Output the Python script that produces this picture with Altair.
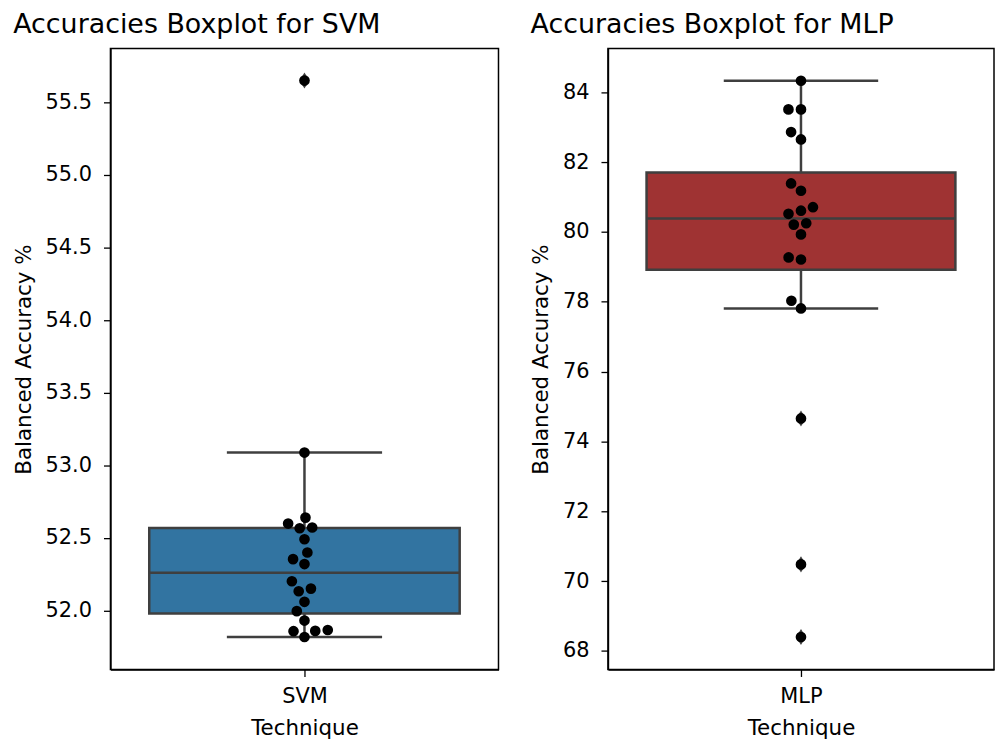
import altair as alt
import numpy as np
import pandas as pd

# ---------------- data ----------------
techniques = ["SVM", "MLP"]
titles = ["Accuracies Boxplot for SVM", "Accuracies Boxplot for MLP"]

svm_acc = [53.088, 52.640, 52.599, 52.567, 52.572, 52.491, 52.400, 52.354,
           52.320, 52.202, 52.133, 52.151, 52.060, 51.996, 51.931, 51.866,
           51.860, 51.858, 51.818, 55.650]
mlp_acc = [84.33, 83.51, 83.51, 82.86, 82.65, 81.39, 81.18, 80.71, 80.61,
           80.52, 80.21, 80.25, 79.93, 79.27, 79.21, 78.03, 77.81, 74.66,
           70.48, 68.40]

svm_ticks = [52.0, 52.5, 53.0, 53.5, 54.0, 54.5, 55.0, 55.5]
mlp_ticks = [68, 70, 72, 74, 76, 78, 80, 82, 84]

# ---------------- style ----------------
FONT = "DejaVu Sans"
EDGE = "#3f3f3f"
COLORS = ["#3274a1", "#9f3333"]
Y_DOMAINS = [[51.594, 55.87], [67.47, 85.25]]
WIDTHS = [390, 388]
HEIGHT = 624
BOX_HALF = 0.4
CAP_HALF = 0.2
DOT_D = 12.0  # swarm spacing in px


def beeswarm(ys, d):
    """seaborn-style swarm: ys sorted ascending (px); returns x offsets (px)."""
    placed = [(0.0, ys[0])]
    for y in ys[1:]:
        neighbors = [(xj, yj) for (xj, yj) in reversed(placed) if abs(y - yj) < d]
        cands = [(0.0, y)]
        left_first = True
        for xj, yj in neighbors:
            dy = y - yj
            dx = np.sqrt(max(d * d - dy * dy, 0.0)) * 1.05
            cl, cr = (xj - dx, y), (xj + dx, y)
            cands.extend([cl, cr] if left_first else [cr, cl])
            left_first = not left_first
        cands.sort(key=lambda c: abs(c[0]))
        chosen = cands[0]
        for c in cands:
            if all((c[0] - xj) ** 2 + (c[1] - yj) ** 2 >= d * d - 1e-9
                   for xj, yj in neighbors):
                chosen = c
                break
        placed.append(chosen)
    return [p[0] for p in placed]


def panel(i, values, ticks, fmt):
    name = techniques[i]
    width = WIDTHS[i]
    dom = Y_DOMAINS[i]
    vals = np.sort(np.array(values, dtype=float))
    q1, med, q3 = np.percentile(vals, [25, 50, 75])
    iqr = q3 - q1
    lo = vals[vals >= q1 - 1.5 * iqr].min()
    hi = vals[vals <= q3 + 1.5 * iqr].max()
    fliers = vals[(vals < lo) | (vals > hi)]

    px_per_unit = HEIGHT / (dom[1] - dom[0])
    offs = beeswarm(list(vals * px_per_unit), DOT_D)
    swarm = pd.DataFrame({"acc": vals, "xpos": np.array(offs) / width})

    stats = pd.DataFrame({"q1": [q1], "q3": [q3], "med": [med], "lo": [lo], "hi": [hi]})
    whisk = pd.DataFrame({"a": [q1, q3], "b": [lo, hi]})
    caps = pd.DataFrame({"y": [lo, hi]})
    fl = pd.DataFrame({"acc": fliers, "xpos": np.zeros(len(fliers))})

    xscale = alt.Scale(domain=[-0.5, 0.5], nice=False, zero=False)
    yscale = alt.Scale(domain=dom, nice=False, zero=False)
    xaxis = alt.Axis(values=[0], labelExpr=f"'{name}'", title="Technique",
                     grid=False, tickSize=7, labelPadding=9, titlePadding=11)
    yaxis = alt.Axis(values=ticks, format=fmt, title="Balanced Accuracy %",
                     grid=False, tickSize=7, labelPadding=12, titlePadding=10)

    box = alt.Chart(stats).mark_rect(
        fill=COLORS[i], stroke=EDGE, strokeWidth=2.5
    ).encode(
        x=alt.X(datum=-BOX_HALF, type="quantitative", scale=xscale, axis=xaxis),
        x2=alt.X2(datum=BOX_HALF),
        y=alt.Y("q1:Q", scale=yscale, axis=yaxis),
        y2="q3:Q",
    )
    wh = alt.Chart(whisk).mark_rule(color=EDGE, strokeWidth=2.5).encode(
        x=alt.X(datum=0, type="quantitative"),
        y="a:Q", y2="b:Q",
    )
    cp = alt.Chart(caps).mark_rule(color=EDGE, strokeWidth=2.5).encode(
        x=alt.X(datum=-CAP_HALF, type="quantitative"),
        x2=alt.X2(datum=CAP_HALF),
        y="y:Q",
    )
    md = alt.Chart(stats).mark_rule(color=EDGE, strokeWidth=2.5).encode(
        x=alt.X(datum=-BOX_HALF, type="quantitative"),
        x2=alt.X2(datum=BOX_HALF),
        y="med:Q",
    )
    flier = alt.Chart(fl).mark_point(
        shape="M0,-1L0.62,0L0,1L-0.62,0Z", filled=True, color=EDGE,
        size=260, opacity=1
    ).encode(x="xpos:Q", y="acc:Q")
    pts = alt.Chart(swarm).mark_circle(color="black", size=115, opacity=1).encode(
        x="xpos:Q", y="acc:Q"
    )
    return alt.layer(box, wh, cp, md, flier, pts).properties(
        width=width, height=HEIGHT,
        title=alt.TitleParams(titles[i], anchor="start", fontSize=27,
                              fontWeight="normal", font=FONT, color="black",
                              baseline="bottom", offset=-17),
    )


left = panel(0, svm_acc, svm_ticks, ".1f")
right = panel(1, mlp_acc, mlp_ticks, "d")

chart = alt.hconcat(left, right, spacing=30).configure(
    padding={"left": 12, "top": 8, "right": 0, "bottom": 0},
    font=FONT,
).configure_view(
    stroke="black", strokeWidth=1.5
).configure_axis(
    labelFont=FONT, titleFont=FONT, labelFontSize=21, titleFontSize=21.5,
    titleFontWeight="normal", labelColor="black", titleColor="black",
    tickColor="black", domainColor="black", domainWidth=1.5, tickWidth=1.3,
)

chart.save("out.html", embed_options={"renderer": "svg", "actions": False})
